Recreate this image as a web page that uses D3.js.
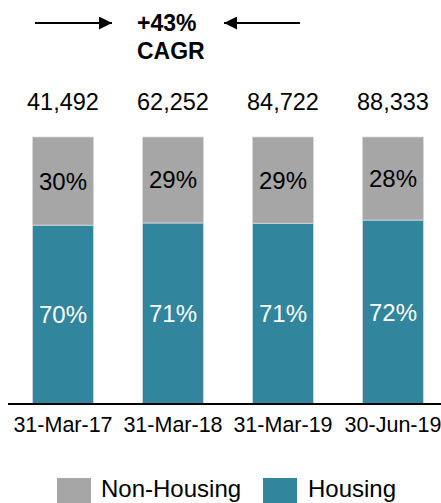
<!DOCTYPE html>
<html>
<head>
<meta charset="utf-8">
<script src="https://cdn.jsdelivr.net/npm/d3@7"></script>
<style>
html,body{margin:0;padding:0;background:#fff;}
svg{display:block;font-family:"Liberation Sans",Arial,Helvetica,sans-serif;}
</style>
</head>
<body>
<svg id="chart" width="441" height="503"></svg>
<script>
// ---- data ----
const categories = ["31-Mar-17", "31-Mar-18", "31-Mar-19", "30-Jun-19"];
const totals = ["41,492", "62,252", "84,722", "88,333"];
const housingShare = [67, 67.8, 67.7, 68.9];        // drawn share
const nonHousingShare = [33, 32.2, 32.3, 31.1];
const housingLabels = ["70%", "71%", "71%", "72%"];
const nonHousingLabels = ["30%", "29%", "29%", "28%"];
const seriesNames = ["Non-Housing", "Housing"];
const cagrLines = ["+43%", "CAGR"];

const colors = {"Housing": "#31859C", "Non-Housing": "#A6A6A6"};

const svg = d3.select("#chart");

const x = d3.scaleBand().domain(categories).range([8, 448]).paddingInner(0.445).paddingOuter(0.2225);
const y = d3.scaleLinear().domain([0, 100]).range([404, 137]);

const rows = categories.map((c, i) => ({cat: c, "Housing": housingShare[i], "Non-Housing": nonHousingShare[i]}));
const stack = d3.stack().keys(["Housing", "Non-Housing"]);
const layers = stack(rows);
const labelMap = {"Housing": housingLabels, "Non-Housing": nonHousingLabels};
const labelColor = {"Housing": "#ffffff", "Non-Housing": "#000000"};

const g = svg.append("g");
layers.forEach(layer => {
  const key = layer.key;
  g.selectAll(null).data(layer).enter().append("rect")
    .attr("x", d => x(d.data.cat))
    .attr("width", x.bandwidth())
    .attr("y", d => y(d[1]))
    .attr("height", d => y(d[0]) - y(d[1]))
    .attr("fill", colors[key])
    .attr("stroke", "#d9d9d9")
    .attr("stroke-width", 0.8);
  g.selectAll(null).data(layer).enter().append("text")
    .attr("x", d => x(d.data.cat) + x.bandwidth() / 2)
    .attr("y", d => (y(d[0]) + y(d[1])) / 2 + 8.5)
    .attr("text-anchor", "middle")
    .attr("font-size", 24)
    .attr("fill", labelColor[key])
    .text((d, i) => labelMap[key][i]);
});

// axis baseline
const xAxis = d3.axisBottom(x).tickSize(0).tickPadding(13);
const ax = svg.append("g").attr("transform", "translate(0,404)").call(xAxis);
ax.select(".domain").attr("d", "M8,0H441").attr("stroke", "#000").attr("stroke-width", 2);
ax.selectAll("text").attr("font-size", 21.5).attr("fill", "#000")
  .attr("font-family", "Liberation Sans, Arial, sans-serif").attr("dy", "0.72em");

// totals
svg.selectAll(null).data(categories).enter().append("text")
  .attr("x", d => x(d) + x.bandwidth() / 2)
  .attr("y", 110)
  .attr("text-anchor", "middle")
  .attr("font-size", 23.5)
  .attr("fill", "#000")
  .text((d, i) => totals[i]);

// CAGR annotation
const defs = svg.append("defs");
defs.append("marker").attr("id", "ah").attr("viewBox", "0 0 10 10")
  .attr("refX", 10).attr("refY", 5).attr("markerWidth", 17).attr("markerHeight", 13)
  .attr("markerUnits", "userSpaceOnUse").attr("orient", "auto")
  .append("path").attr("d", "M0,0L10,5L0,10Z").attr("fill", "#000");

svg.append("line").attr("x1", 35).attr("x2", 112).attr("y1", 23).attr("y2", 23)
  .attr("stroke", "#000").attr("stroke-width", 2).attr("marker-end", "url(#ah)");
svg.append("line").attr("x1", 300).attr("x2", 224).attr("y1", 23).attr("y2", 23)
  .attr("stroke", "#000").attr("stroke-width", 2).attr("marker-end", "url(#ah)");

svg.selectAll(null).data(cagrLines).enter().append("text")
  .attr("x", 137)
  .attr("y", (d, i) => 31 + i * 28)
  .attr("font-size", 23)
  .attr("font-weight", "bold")
  .attr("fill", "#000")
  .text(d => d);

// legend
const legX = [57, 263];
const leg = svg.selectAll(null).data(seriesNames).enter().append("g")
  .attr("transform", (d, i) => `translate(${legX[i]},478)`);
leg.append("rect").attr("width", 34).attr("height", 34).attr("fill", d => colors[d]);
leg.append("text").attr("x", d => d === "Non-Housing" ? 44 : 45).attr("y", 19)
  .attr("font-size", 24).attr("fill", "#000").text(d => d);
</script>
</body>
</html>
